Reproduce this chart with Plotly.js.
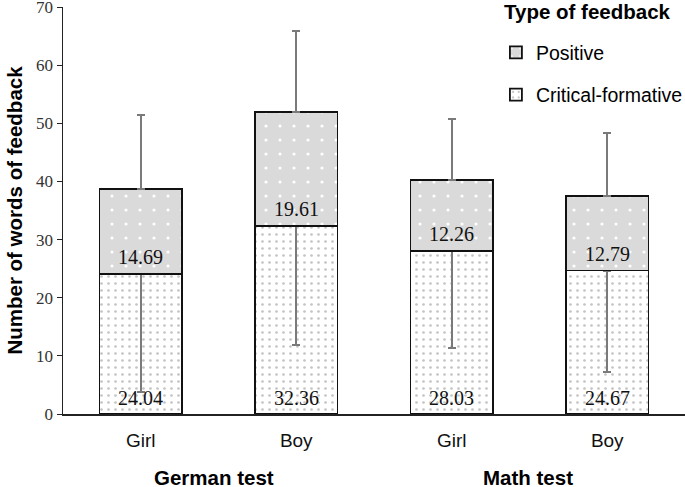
<!DOCTYPE html>
<html>
<head>
<meta charset="utf-8">
<script src="https://cdn.plot.ly/plotly-3.0.1.min.js"></script>
<style>html,body{margin:0;padding:0;background:#fff}#chart{width:685px;height:487px}</style>
</head>
<body>
<div id="chart"></div>
<script>
const categories = ['Girl', 'Boy', 'Girl', 'Boy'];
const groups = ['German test', 'Math test'];
const legendTitle = 'Type of feedback';
const critical = [24.04, 32.36, 28.03, 24.67];
const positive = [14.69, 19.61, 12.26, 12.79];
const positiveErrUp = [12.7, 13.9, 10.4, 10.8];
const criticalErrDown = [20.2, 20.5, 16.6, 17.5];
const yTicks = [0, 10, 20, 30, 40, 50, 60, 70];

const xs = categories.map((_, i) => i);
const zeros = categories.map(() => 0);
const serif = 'Liberation Serif, Times New Roman, serif';
const sans = 'Liberation Sans, Arial, sans-serif';

const traces = [
  {
    type: 'bar', name: 'Critical-formative', x: xs, y: critical, width: 0.53,
    legendgroup: 'b', legendrank: 2,
    marker: {color: '#ffffff', line: {color: '#111', width: 1.8},
      pattern: {shape: '.', bgcolor: '#ffffff', fgcolor: '#c4c4c4', size: 7, solidity: 0.12, fillmode: 'replace'}},
    error_y: {type: 'data', symmetric: false, array: zeros, arrayminus: criticalErrDown, color: '#7a7a7a', thickness: 2, width: 4},
    hoverinfo: 'skip'
  },
  {
    type: 'bar', name: 'Positive', x: xs, y: positive, width: 0.53,
    legendgroup: 'a', legendrank: 1,
    marker: {color: '#d9d9d9', line: {color: '#111', width: 1.8},
      pattern: {shape: '.', bgcolor: '#dadada', fgcolor: '#ffffff', size: 14, solidity: 0.04, fillmode: 'replace'}},
    error_y: {type: 'data', symmetric: false, array: positiveErrUp, arrayminus: zeros, color: '#7a7a7a', thickness: 2, width: 4},
    hoverinfo: 'skip'
  }
];

const valueLabels = [];
xs.forEach((x, i) => {
  valueLabels.push({x: x, y: 0, xref: 'x', yref: 'y', yanchor: 'middle', yshift: 16,
    text: critical[i].toFixed(2), showarrow: false, font: {family: serif, size: 20, color: '#111'}});
  valueLabels.push({x: x, y: critical[i], xref: 'x', yref: 'y', yanchor: 'middle', yshift: 17,
    text: positive[i].toFixed(2), showarrow: false, font: {family: serif, size: 20, color: '#111'}});
});

const groupLabels = groups.map((g, i) => ({
  text: '<b>' + g + '</b>', xref: 'paper', yref: 'paper', x: [0.242, 0.748][i], y: -0.155,
  xanchor: 'center', yanchor: 'middle', showarrow: false, font: {family: sans, size: 20.5, color: '#000'}
}));

const titleLabel = {
  text: '<b>' + legendTitle + '</b>', xref: 'paper', yref: 'paper', x: 0.844, y: 0.988,
  xanchor: 'center', yanchor: 'middle', showarrow: false, font: {family: sans, size: 20.5, color: '#000'}
};

const layout = {
  width: 685, height: 487,
  margin: {l: 63, r: 0, t: 7, b: 73, autoexpand: false},
  paper_bgcolor: '#fff', plot_bgcolor: '#fff',
  barmode: 'stack',
  showlegend: true,
  legend: {
    xref: 'paper', yref: 'container',
    x: 0.696, xanchor: 'left', y: 0.932, yanchor: 'top',
    traceorder: 'grouped', tracegroupgap: 14, itemwidth: 30,
    font: {family: sans, size: 19.5, color: '#000'},
    bgcolor: 'rgba(0,0,0,0)'
  },
  xaxis: {
    range: [-0.5, 3.5], tickvals: xs, ticktext: categories, automargin: false,
    showline: true, linecolor: '#222', linewidth: 1.5, ticks: '', showgrid: false, zeroline: false,
    tickfont: {family: sans, size: 19, color: '#111'}, ticklabelstandoff: 9
  },
  yaxis: {
    range: [0, 70], tickvals: yTicks, ticklabeloverflow: 'allow', automargin: false,
    showline: true, linecolor: '#222', linewidth: 1.5, ticks: 'outside', ticklen: 5, tickcolor: '#222',
    showgrid: false, zeroline: false,
    tickfont: {family: serif, size: 17, color: '#333'},
    title: {text: '<b>Number of words of feedback</b>', font: {family: sans, size: 20.5, color: '#000'}, standoff: 8}
  },
  annotations: valueLabels.concat(groupLabels, [titleLabel])
};

Plotly.newPlot('chart', traces, layout, {staticPlot: true});
</script>
</body>
</html>
